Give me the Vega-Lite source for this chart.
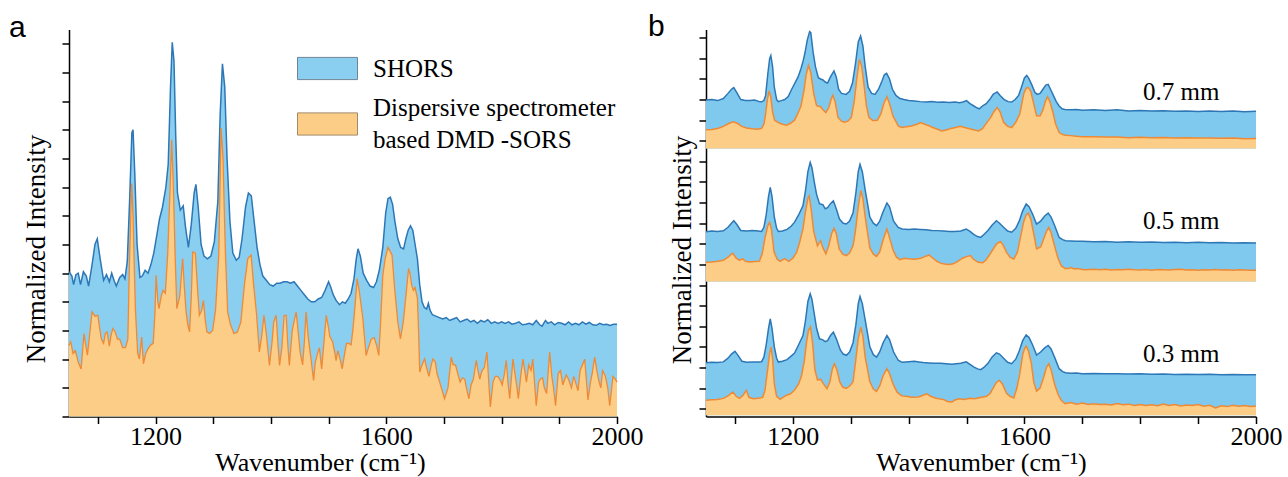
{
"$schema":"https://vega.github.io/schema/vega-lite/v6.json",
"padding":{"left":9,"top":11.5,"right":2,"bottom":2},
"background":"white",
"config":{"view":{"stroke":null},"font":"Liberation Serif",
"axis":{"domainColor":"black","domainWidth":1.5,"tickColor":"black","tickWidth":1.5,"tickSize":7,"grid":false,"labelFont":"Liberation Serif","labelFontSize":26,"labelColor":"black","titleFont":"Liberation Serif","titleFontSize":26,"titleFontWeight":"normal","titleColor":"black","labelFlush":false,"labelOverlap":false,"labelPadding":0}},
"datasets":{
"as":[{"x":1050,"y":5.05},{"x":1055,"y":4.9},{"x":1058,"y":4.6},{"x":1062,"y":4.95},{"x":1066,"y":5.0},{"x":1070,"y":4.6},{"x":1075,"y":5.05},{"x":1080,"y":4.9},{"x":1084,"y":4.55},{"x":1090,"y":5.3},{"x":1095,"y":6.0},{"x":1099,"y":6.2},{"x":1104,"y":5.5},{"x":1110,"y":4.75},{"x":1115,"y":4.95},{"x":1120,"y":4.7},{"x":1124,"y":5.0},{"x":1128,"y":4.75},{"x":1132,"y":4.55},{"x":1138,"y":4.85},{"x":1143,"y":4.95},{"x":1147,"y":4.8},{"x":1151,"y":5.4},{"x":1155,"y":7.5},{"x":1159,"y":9.9},{"x":1161,"y":10.0},{"x":1164,"y":8.5},{"x":1168,"y":6.0},{"x":1173,"y":4.85},{"x":1177,"y":4.9},{"x":1182,"y":5.1},{"x":1187,"y":5.0},{"x":1192,"y":5.3},{"x":1197,"y":5.7},{"x":1202,"y":6.3},{"x":1207,"y":6.9},{"x":1212,"y":7.3},{"x":1218,"y":8.0},{"x":1222,"y":8.8},{"x":1226,"y":11.5},{"x":1229,"y":13.05},{"x":1232,"y":12.4},{"x":1235,"y":9.8},{"x":1238,"y":7.8},{"x":1243,"y":7.2},{"x":1248,"y":7.35},{"x":1252,"y":6.6},{"x":1257,"y":5.9},{"x":1262,"y":6.7},{"x":1267,"y":7.8},{"x":1270,"y":8.1},{"x":1274,"y":7.3},{"x":1279,"y":6.0},{"x":1284,"y":5.6},{"x":1290,"y":5.5},{"x":1296,"y":5.6},{"x":1302,"y":6.1},{"x":1308,"y":7.5},{"x":1312,"y":10.5},{"x":1316,"y":12.3},{"x":1320,"y":11.5},{"x":1324,"y":9.0},{"x":1329,"y":6.8},{"x":1334,"y":5.7},{"x":1340,"y":5.45},{"x":1345,"y":5.55},{"x":1350,"y":6.2},{"x":1356,"y":7.3},{"x":1361,"y":7.8},{"x":1366,"y":7.7},{"x":1371,"y":6.8},{"x":1376,"y":5.9},{"x":1381,"y":5.3},{"x":1386,"y":4.9},{"x":1392,"y":4.75},{"x":1398,"y":4.6},{"x":1404,"y":4.55},{"x":1410,"y":4.65},{"x":1416,"y":4.65},{"x":1422,"y":4.7},{"x":1428,"y":4.7},{"x":1434,"y":4.65},{"x":1440,"y":4.7},{"x":1446,"y":4.55},{"x":1452,"y":4.4},{"x":1458,"y":4.25},{"x":1464,"y":4.1},{"x":1470,"y":4.0},{"x":1476,"y":4.0},{"x":1482,"y":4.1},{"x":1488,"y":4.15},{"x":1494,"y":4.4},{"x":1500,"y":4.7},{"x":1504,"y":4.5},{"x":1508,"y":4.25},{"x":1513,"y":4.05},{"x":1519,"y":3.9},{"x":1524,"y":4.0},{"x":1529,"y":3.95},{"x":1534,"y":4.1},{"x":1539,"y":4.3},{"x":1544,"y":4.8},{"x":1548,"y":5.5},{"x":1551,"y":5.85},{"x":1555,"y":5.6},{"x":1560,"y":5.0},{"x":1566,"y":4.75},{"x":1572,"y":4.55},{"x":1578,"y":4.5},{"x":1583,"y":4.7},{"x":1588,"y":5.1},{"x":1594,"y":5.9},{"x":1599,"y":7.1},{"x":1603,"y":7.6},{"x":1607,"y":7.65},{"x":1611,"y":7.4},{"x":1615,"y":6.8},{"x":1620,"y":6.2},{"x":1625,"y":5.9},{"x":1630,"y":5.85},{"x":1634,"y":6.2},{"x":1638,"y":6.5},{"x":1642,"y":6.65},{"x":1646,"y":6.5},{"x":1650,"y":6.0},{"x":1654,"y":5.5},{"x":1658,"y":4.6},{"x":1662,"y":4.0},{"x":1666,"y":3.8},{"x":1670,"y":3.75},{"x":1673,"y":3.95},{"x":1676,"y":3.7},{"x":1680,"y":3.55},{"x":1686,"y":3.5},{"x":1692,"y":3.45},{"x":1698,"y":3.4},{"x":1704,"y":3.45},{"x":1710,"y":3.35},{"x":1716,"y":3.4},{"x":1722,"y":3.45},{"x":1728,"y":3.3},{"x":1734,"y":3.35},{"x":1740,"y":3.4},{"x":1746,"y":3.3},{"x":1752,"y":3.35},{"x":1758,"y":3.25},{"x":1764,"y":3.35},{"x":1770,"y":3.3},{"x":1776,"y":3.38},{"x":1782,"y":3.25},{"x":1788,"y":3.3},{"x":1794,"y":3.25},{"x":1800,"y":3.3},{"x":1806,"y":3.25},{"x":1812,"y":3.3},{"x":1818,"y":3.22},{"x":1824,"y":3.25},{"x":1830,"y":3.3},{"x":1836,"y":3.2},{"x":1842,"y":3.22},{"x":1848,"y":3.25},{"x":1854,"y":3.2},{"x":1860,"y":3.35},{"x":1866,"y":3.2},{"x":1870,"y":3.15},{"x":1876,"y":3.35},{"x":1880,"y":3.25},{"x":1886,"y":3.3},{"x":1892,"y":3.2},{"x":1898,"y":3.28},{"x":1904,"y":3.25},{"x":1910,"y":3.2},{"x":1916,"y":3.3},{"x":1922,"y":3.2},{"x":1928,"y":3.25},{"x":1934,"y":3.2},{"x":1940,"y":3.3},{"x":1946,"y":3.22},{"x":1952,"y":3.28},{"x":1958,"y":3.2},{"x":1964,"y":3.18},{"x":1970,"y":3.25},{"x":1976,"y":3.2},{"x":1982,"y":3.22},{"x":1988,"y":3.18},{"x":1994,"y":3.22},{"x":2000,"y":3.22}],
"ad":[{"x":1050,"y":2.48},{"x":1053,"y":2.6},{"x":1057,"y":2.2},{"x":1061,"y":2.3},{"x":1066,"y":1.9},{"x":1071,"y":1.66},{"x":1076,"y":2.89},{"x":1079,"y":2.5},{"x":1082,"y":2.14},{"x":1086,"y":2.9},{"x":1090,"y":3.65},{"x":1095,"y":3.5},{"x":1100,"y":3.53},{"x":1103,"y":3.1},{"x":1106,"y":2.7},{"x":1110,"y":2.55},{"x":1113,"y":2.9},{"x":1116,"y":2.95},{"x":1120,"y":2.45},{"x":1123,"y":2.85},{"x":1126,"y":3.07},{"x":1130,"y":2.95},{"x":1134,"y":2.7},{"x":1138,"y":2.7},{"x":1143,"y":2.4},{"x":1148,"y":2.4},{"x":1152,"y":2.7},{"x":1155,"y":5.5},{"x":1158.7,"y":8.13},{"x":1161,"y":7.0},{"x":1165,"y":3.8},{"x":1169,"y":2.2},{"x":1172,"y":2.0},{"x":1176,"y":2.77},{"x":1179,"y":1.84},{"x":1183,"y":2.2},{"x":1188,"y":2.4},{"x":1192,"y":2.5},{"x":1196,"y":2.55},{"x":1199,"y":3.6},{"x":1201,"y":4.93},{"x":1204,"y":4.0},{"x":1206,"y":3.76},{"x":1210,"y":4.2},{"x":1213,"y":4.4},{"x":1217,"y":4.3},{"x":1221,"y":5.63},{"x":1225,"y":7.8},{"x":1228,"y":9.65},{"x":1231,"y":8.0},{"x":1234,"y":5.6},{"x":1237,"y":3.76},{"x":1242,"y":4.2},{"x":1247,"y":5.51},{"x":1250,"y":4.5},{"x":1253,"y":3.65},{"x":1256,"y":3.2},{"x":1259,"y":2.95},{"x":1262,"y":4.2},{"x":1264.5,"y":5.74},{"x":1269,"y":5.7},{"x":1273,"y":4.4},{"x":1276,"y":3.53},{"x":1280,"y":3.7},{"x":1283,"y":4.05},{"x":1286,"y":3.4},{"x":1289,"y":2.95},{"x":1294,"y":2.9},{"x":1299,"y":3.0},{"x":1304,"y":3.7},{"x":1309.6,"y":5.63},{"x":1313.7,"y":10.06},{"x":1317,"y":9.0},{"x":1321,"y":5.8},{"x":1325,"y":3.65},{"x":1330,"y":3.2},{"x":1336,"y":2.89},{"x":1342,"y":2.95},{"x":1348,"y":3.3},{"x":1354,"y":4.58},{"x":1360,"y":5.51},{"x":1365.7,"y":5.63},{"x":1370,"y":4.6},{"x":1375,"y":3.6},{"x":1380,"y":2.25},{"x":1384,"y":2.8},{"x":1388,"y":3.53},{"x":1392,"y":2.9},{"x":1397.5,"y":1.78},{"x":1402,"y":2.6},{"x":1405,"y":3.3},{"x":1409,"y":3.53},{"x":1412,"y":2.6},{"x":1415,"y":1.78},{"x":1419,"y":2.4},{"x":1423,"y":3.53},{"x":1426.5,"y":3.53},{"x":1429,"y":2.6},{"x":1432,"y":1.78},{"x":1437,"y":3.0},{"x":1440,"y":3.3},{"x":1443.8,"y":3.65},{"x":1448,"y":2.8},{"x":1451,"y":2.2},{"x":1455,"y":1.8},{"x":1458,"y":2.6},{"x":1461,"y":3.65},{"x":1465,"y":2.7},{"x":1469,"y":2.1},{"x":1474,"y":1.26},{"x":1477,"y":1.9},{"x":1481,"y":2.2},{"x":1484,"y":2.4},{"x":1488,"y":1.66},{"x":1492,"y":2.6},{"x":1496,"y":3.53},{"x":1499,"y":3.2},{"x":1502,"y":2.8},{"x":1507,"y":2.6},{"x":1511,"y":2.2},{"x":1513,"y":1.95},{"x":1516,"y":2.3},{"x":1520,"y":2.0},{"x":1523.6,"y":1.66},{"x":1527,"y":2.1},{"x":1531,"y":2.55},{"x":1535,"y":2.55},{"x":1539,"y":2.5},{"x":1542,"y":3.0},{"x":1545,"y":3.65},{"x":1549.6,"y":4.81},{"x":1553.7,"y":4.3},{"x":1559.5,"y":3.4},{"x":1565,"y":2.13},{"x":1569,"y":2.4},{"x":1574,"y":2.7},{"x":1579,"y":2.75},{"x":1583,"y":2.5},{"x":1587,"y":2.13},{"x":1590,"y":3.2},{"x":1594,"y":4.93},{"x":1598,"y":5.5},{"x":1603,"y":5.9},{"x":1607,"y":5.75},{"x":1610,"y":5.63},{"x":1615,"y":4.35},{"x":1620,"y":3.3},{"x":1624.5,"y":2.71},{"x":1629.5,"y":3.3},{"x":1634,"y":4.2},{"x":1638.7,"y":5.16},{"x":1641,"y":5.0},{"x":1644,"y":4.58},{"x":1647,"y":4.4},{"x":1650,"y":4.5},{"x":1654,"y":4.12},{"x":1656,"y":3.0},{"x":1658,"y":1.55},{"x":1662,"y":1.8},{"x":1666.4,"y":2.01},{"x":1670,"y":1.7},{"x":1674,"y":1.4},{"x":1678,"y":1.8},{"x":1681,"y":2.01},{"x":1685,"y":1.9},{"x":1688,"y":1.5},{"x":1692.5,"y":1.2},{"x":1697,"y":0.9},{"x":1701,"y":0.62},{"x":1707,"y":1.0},{"x":1712.7,"y":2.07},{"x":1716,"y":1.8},{"x":1720,"y":1.8},{"x":1724,"y":1.5},{"x":1728,"y":1.2},{"x":1732,"y":1.35},{"x":1736,"y":1.3},{"x":1740,"y":0.9},{"x":1743.3,"y":0.62},{"x":1747,"y":1.1},{"x":1751,"y":1.3},{"x":1756,"y":1.96},{"x":1759,"y":1.6},{"x":1762,"y":1.3},{"x":1766,"y":1.6},{"x":1770,"y":1.7},{"x":1774.5,"y":2.25},{"x":1780.4,"y":0.33},{"x":1785,"y":1.2},{"x":1789,"y":1.4},{"x":1793,"y":1.4},{"x":1797,"y":1.3},{"x":1801,"y":1.1},{"x":1805,"y":1.5},{"x":1808,"y":1.96},{"x":1811,"y":1.2},{"x":1814,"y":0.62},{"x":1819.6,"y":2.0},{"x":1823,"y":1.5},{"x":1826,"y":1.1},{"x":1829,"y":0.62},{"x":1833,"y":1.4},{"x":1837,"y":2.0},{"x":1840,"y":1.6},{"x":1843,"y":1.2},{"x":1847,"y":1.8},{"x":1851,"y":1.6},{"x":1854,"y":2.0},{"x":1860,"y":0.38},{"x":1864,"y":1.2},{"x":1867,"y":1.3},{"x":1871,"y":1.35},{"x":1874,"y":1.0},{"x":1878,"y":0.8},{"x":1883.3,"y":2.25},{"x":1887,"y":1.4},{"x":1890,"y":1.0},{"x":1893.5,"y":0.38},{"x":1898,"y":1.5},{"x":1902,"y":1.6},{"x":1906,"y":1.1},{"x":1912,"y":1.45},{"x":1916,"y":1.3},{"x":1921,"y":1.0},{"x":1925,"y":1.4},{"x":1928,"y":1.2},{"x":1932.4,"y":0.9},{"x":1936,"y":1.6},{"x":1940,"y":1.8},{"x":1944,"y":2.0},{"x":1949.7,"y":0.58},{"x":1954,"y":1.2},{"x":1957,"y":1.5},{"x":1961.3,"y":2.07},{"x":1965,"y":1.6},{"x":1969,"y":1.2},{"x":1972,"y":1.0},{"x":1975,"y":1.6},{"x":1980,"y":1.4},{"x":1984,"y":1.0},{"x":1987.4,"y":0.38},{"x":1993,"y":1.4},{"x":1997,"y":1.3},{"x":2000,"y":1.2}],
"b7s":[{"x":1050,"y":14.98},{"x":1060,"y":15.0},{"x":1070,"y":14.95},{"x":1080,"y":15.05},{"x":1088,"y":15.3},{"x":1094,"y":15.5},{"x":1098,"y":15.58},{"x":1103,"y":15.35},{"x":1110,"y":15.0},{"x":1118,"y":14.95},{"x":1126,"y":14.95},{"x":1134,"y":14.98},{"x":1142,"y":14.9},{"x":1146,"y":14.89},{"x":1150,"y":14.95},{"x":1153,"y":15.2},{"x":1157,"y":16.3},{"x":1160,"y":17.0},{"x":1162,"y":17.14},{"x":1165,"y":16.6},{"x":1168,"y":15.6},{"x":1172,"y":15.0},{"x":1175,"y":14.9},{"x":1180,"y":14.95},{"x":1186,"y":15.0},{"x":1192,"y":15.15},{"x":1198,"y":15.5},{"x":1204,"y":15.82},{"x":1209,"y":16.1},{"x":1214,"y":16.5},{"x":1218,"y":16.9},{"x":1221,"y":17.27},{"x":1225,"y":17.9},{"x":1229,"y":18.3},{"x":1231,"y":18.25},{"x":1235,"y":17.3},{"x":1239,"y":16.6},{"x":1244,"y":16.06},{"x":1248,"y":16.0},{"x":1252,"y":15.95},{"x":1256,"y":15.85},{"x":1260,"y":15.8},{"x":1265,"y":16.1},{"x":1271,"y":16.39},{"x":1275,"y":16.1},{"x":1279,"y":15.5},{"x":1284,"y":15.3},{"x":1292,"y":15.25},{"x":1298,"y":15.4},{"x":1303,"y":15.8},{"x":1308,"y":16.7},{"x":1313,"y":17.8},{"x":1317,"y":18.08},{"x":1321,"y":17.6},{"x":1325,"y":16.6},{"x":1330,"y":15.6},{"x":1336,"y":15.3},{"x":1342,"y":15.25},{"x":1348,"y":15.5},{"x":1354,"y":15.9},{"x":1358,"y":16.2},{"x":1362,"y":16.27},{"x":1367,"y":16.0},{"x":1372,"y":15.5},{"x":1378,"y":15.2},{"x":1385,"y":15.05},{"x":1392,"y":15.0},{"x":1400,"y":14.95},{"x":1410,"y":14.93},{"x":1420,"y":14.9},{"x":1430,"y":14.88},{"x":1440,"y":14.9},{"x":1450,"y":14.87},{"x":1460,"y":14.88},{"x":1470,"y":14.86},{"x":1480,"y":14.88},{"x":1488,"y":14.85},{"x":1494,"y":14.88},{"x":1500,"y":14.95},{"x":1506,"y":14.8},{"x":1512,"y":14.7},{"x":1518,"y":14.6},{"x":1522,"y":14.55},{"x":1528,"y":14.7},{"x":1534,"y":14.8},{"x":1540,"y":15.0},{"x":1546,"y":15.25},{"x":1553,"y":15.37},{"x":1558,"y":15.2},{"x":1565,"y":15.0},{"x":1572,"y":14.9},{"x":1578,"y":14.88},{"x":1584,"y":15.0},{"x":1590,"y":15.2},{"x":1596,"y":15.7},{"x":1600,"y":16.05},{"x":1604,"y":16.17},{"x":1608,"y":16.0},{"x":1613,"y":15.7},{"x":1618,"y":15.35},{"x":1622,"y":15.25},{"x":1627,"y":15.3},{"x":1632,"y":15.5},{"x":1637,"y":15.7},{"x":1641,"y":15.74},{"x":1645,"y":15.5},{"x":1650,"y":15.2},{"x":1655,"y":14.9},{"x":1660,"y":14.69},{"x":1665,"y":14.55},{"x":1670,"y":14.52},{"x":1680,"y":14.5},{"x":1690,"y":14.52},{"x":1700,"y":14.48},{"x":1720,"y":14.5},{"x":1740,"y":14.47},{"x":1760,"y":14.5},{"x":1780,"y":14.45},{"x":1800,"y":14.47},{"x":1820,"y":14.44},{"x":1840,"y":14.46},{"x":1860,"y":14.43},{"x":1880,"y":14.45},{"x":1900,"y":14.42},{"x":1920,"y":14.45},{"x":1940,"y":14.42},{"x":1960,"y":14.44},{"x":1980,"y":14.41},{"x":2000,"y":14.43}],
"b7d":[{"x":1050,"y":13.53},{"x":1060,"y":13.55},{"x":1070,"y":13.6},{"x":1080,"y":13.7},{"x":1090,"y":13.85},{"x":1097,"y":13.92},{"x":1104,"y":13.85},{"x":1112,"y":13.7},{"x":1120,"y":13.62},{"x":1130,"y":13.58},{"x":1139,"y":13.56},{"x":1146,"y":13.6},{"x":1150,"y":13.8},{"x":1153,"y":14.3},{"x":1156,"y":15.0},{"x":1159,"y":15.42},{"x":1162,"y":15.1},{"x":1165,"y":14.4},{"x":1168.5,"y":14.0},{"x":1175,"y":13.88},{"x":1182,"y":13.8},{"x":1189,"y":13.75},{"x":1196,"y":13.85},{"x":1203,"y":14.0},{"x":1209,"y":14.35},{"x":1214,"y":14.69},{"x":1219,"y":15.4},{"x":1223,"y":16.2},{"x":1227,"y":16.66},{"x":1231,"y":16.3},{"x":1236,"y":15.3},{"x":1241,"y":14.7},{"x":1248,"y":14.65},{"x":1252,"y":14.5},{"x":1257,"y":14.37},{"x":1262,"y":14.6},{"x":1266,"y":15.0},{"x":1269,"y":15.21},{"x":1273,"y":14.9},{"x":1278,"y":14.13},{"x":1284,"y":13.95},{"x":1289,"y":13.9},{"x":1295,"y":13.95},{"x":1301,"y":14.13},{"x":1306,"y":14.9},{"x":1310,"y":15.9},{"x":1315,"y":16.95},{"x":1319,"y":16.6},{"x":1323,"y":15.7},{"x":1327,"y":14.7},{"x":1331.5,"y":14.13},{"x":1338,"y":13.98},{"x":1346,"y":14.0},{"x":1352,"y":14.3},{"x":1357,"y":14.8},{"x":1362.5,"y":15.14},{"x":1367,"y":14.8},{"x":1373,"y":14.2},{"x":1382,"y":13.72},{"x":1388,"y":13.65},{"x":1396,"y":13.68},{"x":1405,"y":13.72},{"x":1414,"y":13.8},{"x":1421,"y":13.88},{"x":1428,"y":13.8},{"x":1436,"y":13.72},{"x":1444,"y":13.62},{"x":1451,"y":13.55},{"x":1457,"y":13.48},{"x":1465,"y":13.52},{"x":1473,"y":13.6},{"x":1481,"y":13.64},{"x":1489,"y":13.7},{"x":1497,"y":13.64},{"x":1505,"y":13.58},{"x":1514,"y":13.52},{"x":1521,"y":13.48},{"x":1528,"y":13.6},{"x":1535,"y":13.88},{"x":1541,"y":14.1},{"x":1547,"y":14.4},{"x":1553,"y":14.61},{"x":1558,"y":14.4},{"x":1564,"y":13.9},{"x":1571,"y":13.7},{"x":1578,"y":13.64},{"x":1585,"y":13.9},{"x":1592,"y":14.3},{"x":1599,"y":15.3},{"x":1603,"y":15.55},{"x":1607,"y":15.58},{"x":1611,"y":15.4},{"x":1616,"y":14.8},{"x":1621,"y":14.21},{"x":1627,"y":14.2},{"x":1632,"y":14.5},{"x":1636,"y":14.9},{"x":1640,"y":15.14},{"x":1644,"y":14.9},{"x":1649,"y":14.4},{"x":1654,"y":13.8},{"x":1660,"y":13.4},{"x":1666,"y":13.3},{"x":1671,"y":13.27},{"x":1680,"y":13.25},{"x":1690,"y":13.22},{"x":1700,"y":13.2},{"x":1720,"y":13.2},{"x":1740,"y":13.18},{"x":1760,"y":13.18},{"x":1780,"y":13.15},{"x":1800,"y":13.17},{"x":1820,"y":13.15},{"x":1840,"y":13.16},{"x":1860,"y":13.13},{"x":1880,"y":13.15},{"x":1900,"y":13.13},{"x":1920,"y":13.14},{"x":1940,"y":13.12},{"x":1960,"y":13.14},{"x":1980,"y":13.1},{"x":2000,"y":13.11}],
"b5s":[{"x":1050,"y":8.59},{"x":1060,"y":8.62},{"x":1070,"y":8.6},{"x":1080,"y":8.63},{"x":1088,"y":8.8},{"x":1094,"y":9.0},{"x":1098,"y":9.12},{"x":1103,"y":8.95},{"x":1110,"y":8.65},{"x":1120,"y":8.62},{"x":1130,"y":8.64},{"x":1140,"y":8.62},{"x":1146,"y":8.6},{"x":1150,"y":8.8},{"x":1154,"y":9.4},{"x":1158,"y":10.3},{"x":1161,"y":10.74},{"x":1164,"y":10.3},{"x":1168,"y":9.3},{"x":1172,"y":8.75},{"x":1175,"y":8.6},{"x":1182,"y":8.62},{"x":1190,"y":8.7},{"x":1197,"y":8.85},{"x":1203,"y":9.05},{"x":1210,"y":9.4},{"x":1217.5,"y":9.85},{"x":1222,"y":10.6},{"x":1226,"y":11.5},{"x":1230,"y":11.95},{"x":1233,"y":11.7},{"x":1237,"y":11.0},{"x":1241,"y":10.4},{"x":1246,"y":9.95},{"x":1251.8,"y":9.9},{"x":1256,"y":9.7},{"x":1260,"y":9.75},{"x":1265,"y":9.95},{"x":1270,"y":10.09},{"x":1275,"y":9.7},{"x":1280.5,"y":9.2},{"x":1287,"y":9.0},{"x":1292.5,"y":8.96},{"x":1298,"y":9.1},{"x":1304,"y":9.5},{"x":1309,"y":10.5},{"x":1313,"y":11.5},{"x":1316,"y":11.86},{"x":1320,"y":11.5},{"x":1325,"y":10.6},{"x":1333,"y":9.3},{"x":1339,"y":9.0},{"x":1344.6,"y":8.88},{"x":1350,"y":9.1},{"x":1355,"y":9.5},{"x":1362.5,"y":9.98},{"x":1367,"y":9.8},{"x":1374,"y":9.1},{"x":1382,"y":8.8},{"x":1388.8,"y":8.72},{"x":1400,"y":8.7},{"x":1410,"y":8.72},{"x":1420,"y":8.7},{"x":1430,"y":8.68},{"x":1440,"y":8.65},{"x":1450,"y":8.64},{"x":1460,"y":8.62},{"x":1470,"y":8.6},{"x":1480,"y":8.6},{"x":1490,"y":8.62},{"x":1499.5,"y":8.72},{"x":1506,"y":8.6},{"x":1513,"y":8.45},{"x":1519,"y":8.35},{"x":1524.5,"y":8.31},{"x":1530,"y":8.45},{"x":1537,"y":8.65},{"x":1544,"y":8.9},{"x":1551.6,"y":9.12},{"x":1557,"y":9.0},{"x":1564,"y":8.8},{"x":1571,"y":8.62},{"x":1578,"y":8.56},{"x":1585,"y":8.75},{"x":1591,"y":9.1},{"x":1597,"y":9.6},{"x":1603,"y":9.93},{"x":1608,"y":9.8},{"x":1614,"y":9.45},{"x":1621,"y":8.96},{"x":1628,"y":9.1},{"x":1635,"y":9.35},{"x":1641,"y":9.49},{"x":1646,"y":9.3},{"x":1652,"y":8.9},{"x":1660,"y":8.31},{"x":1666,"y":8.2},{"x":1671,"y":8.15},{"x":1680,"y":8.14},{"x":1690,"y":8.12},{"x":1700,"y":8.13},{"x":1720,"y":8.1},{"x":1740,"y":8.11},{"x":1760,"y":8.08},{"x":1780,"y":8.1},{"x":1800,"y":8.08},{"x":1820,"y":8.09},{"x":1840,"y":8.06},{"x":1860,"y":8.08},{"x":1880,"y":8.05},{"x":1900,"y":8.07},{"x":1920,"y":8.05},{"x":1940,"y":8.06},{"x":1960,"y":8.04},{"x":1980,"y":8.05},{"x":2000,"y":8.04}],
"b5d":[{"x":1050,"y":7.1},{"x":1060,"y":7.12},{"x":1070,"y":7.15},{"x":1080,"y":7.2},{"x":1088,"y":7.35},{"x":1096,"y":7.55},{"x":1102,"y":7.3},{"x":1108,"y":7.2},{"x":1113,"y":7.28},{"x":1118,"y":7.15},{"x":1126,"y":7.12},{"x":1134,"y":7.14},{"x":1142,"y":7.15},{"x":1147,"y":7.5},{"x":1152,"y":8.3},{"x":1157,"y":8.9},{"x":1160,"y":9.04},{"x":1163,"y":8.7},{"x":1167.6,"y":7.6},{"x":1173,"y":7.25},{"x":1178,"y":7.15},{"x":1185.6,"y":7.28},{"x":1193,"y":7.15},{"x":1200,"y":7.3},{"x":1206.8,"y":7.6},{"x":1212,"y":8.1},{"x":1217.5,"y":8.72},{"x":1222,"y":9.6},{"x":1226,"y":10.2},{"x":1228.2,"y":10.33},{"x":1232,"y":9.6},{"x":1236,"y":8.6},{"x":1242.5,"y":7.9},{"x":1248,"y":8.15},{"x":1252,"y":7.8},{"x":1257,"y":7.51},{"x":1262,"y":7.9},{"x":1267,"y":8.5},{"x":1271,"y":8.75},{"x":1275,"y":8.5},{"x":1280,"y":7.75},{"x":1286,"y":7.5},{"x":1292.5,"y":7.43},{"x":1298,"y":7.55},{"x":1304,"y":7.9},{"x":1308,"y":8.6},{"x":1313,"y":9.8},{"x":1317.5,"y":10.58},{"x":1321,"y":10.2},{"x":1325,"y":9.3},{"x":1333,"y":7.8},{"x":1339,"y":7.5},{"x":1344.6,"y":7.39},{"x":1350,"y":7.6},{"x":1356,"y":8.2},{"x":1362.5,"y":8.72},{"x":1367,"y":8.3},{"x":1373,"y":7.7},{"x":1379,"y":7.35},{"x":1385,"y":7.23},{"x":1392,"y":7.3},{"x":1400,"y":7.27},{"x":1410,"y":7.25},{"x":1421,"y":7.3},{"x":1428,"y":7.38},{"x":1435,"y":7.46},{"x":1442,"y":7.3},{"x":1449,"y":7.15},{"x":1456,"y":7.05},{"x":1462,"y":7.02},{"x":1470,"y":7.0},{"x":1477,"y":7.03},{"x":1485,"y":7.15},{"x":1493,"y":7.3},{"x":1500,"y":7.38},{"x":1506.5,"y":7.43},{"x":1512,"y":7.25},{"x":1520,"y":7.1},{"x":1528,"y":7.08},{"x":1533,"y":7.2},{"x":1539,"y":7.43},{"x":1545,"y":7.7},{"x":1552,"y":8.0},{"x":1558.6,"y":8.11},{"x":1563,"y":7.95},{"x":1569,"y":7.6},{"x":1575,"y":7.35},{"x":1581.7,"y":7.26},{"x":1588,"y":7.6},{"x":1593,"y":8.3},{"x":1599,"y":9.1},{"x":1603,"y":9.4},{"x":1606.6,"y":9.49},{"x":1611,"y":9.2},{"x":1616,"y":8.5},{"x":1621,"y":7.75},{"x":1628,"y":7.85},{"x":1634,"y":8.3},{"x":1638,"y":8.6},{"x":1642,"y":8.8},{"x":1646,"y":8.55},{"x":1652,"y":7.9},{"x":1658,"y":7.3},{"x":1663.6,"y":6.94},{"x":1670,"y":6.8},{"x":1676,"y":6.8},{"x":1681,"y":6.85},{"x":1686,"y":6.78},{"x":1692,"y":6.8},{"x":1698,"y":6.76},{"x":1704,"y":6.74},{"x":1712,"y":6.75},{"x":1720,"y":6.76},{"x":1730,"y":6.74},{"x":1740,"y":6.76},{"x":1750,"y":6.73},{"x":1760,"y":6.75},{"x":1770,"y":6.74},{"x":1780,"y":6.76},{"x":1790,"y":6.74},{"x":1800,"y":6.73},{"x":1810,"y":6.75},{"x":1820,"y":6.72},{"x":1830,"y":6.75},{"x":1840,"y":6.74},{"x":1850,"y":6.73},{"x":1860,"y":6.75},{"x":1870,"y":6.76},{"x":1880,"y":6.73},{"x":1890,"y":6.74},{"x":1900,"y":6.72},{"x":1910,"y":6.74},{"x":1920,"y":6.73},{"x":1930,"y":6.75},{"x":1940,"y":6.73},{"x":1950,"y":6.74},{"x":1960,"y":6.72},{"x":1970,"y":6.74},{"x":1980,"y":6.73},{"x":1990,"y":6.72},{"x":2000,"y":6.72}],
"b3s":[{"x":1050,"y":2.23},{"x":1060,"y":2.25},{"x":1070,"y":2.24},{"x":1080,"y":2.27},{"x":1088,"y":2.45},{"x":1094,"y":2.65},{"x":1100,"y":2.78},{"x":1105,"y":2.6},{"x":1112,"y":2.3},{"x":1120,"y":2.25},{"x":1130,"y":2.27},{"x":1140,"y":2.26},{"x":1146,"y":2.28},{"x":1150,"y":2.5},{"x":1154,"y":3.1},{"x":1158,"y":3.9},{"x":1161,"y":4.36},{"x":1164,"y":3.9},{"x":1168,"y":3.0},{"x":1172,"y":2.45},{"x":1175,"y":2.26},{"x":1182,"y":2.3},{"x":1190,"y":2.38},{"x":1197,"y":2.55},{"x":1203,"y":2.7},{"x":1210,"y":3.1},{"x":1217.5,"y":3.55},{"x":1222,"y":4.3},{"x":1226,"y":5.2},{"x":1230,"y":5.57},{"x":1233,"y":5.3},{"x":1237,"y":4.6},{"x":1241,"y":3.9},{"x":1246,"y":3.39},{"x":1251,"y":3.35},{"x":1256,"y":3.25},{"x":1260,"y":3.3},{"x":1265,"y":3.55},{"x":1270,"y":3.71},{"x":1275,"y":3.4},{"x":1282,"y":2.85},{"x":1287,"y":2.65},{"x":1292.5,"y":2.59},{"x":1298,"y":2.75},{"x":1304,"y":3.2},{"x":1309,"y":4.1},{"x":1313,"y":5.1},{"x":1316,"y":5.44},{"x":1320,"y":5.1},{"x":1325,"y":4.3},{"x":1333,"y":3.0},{"x":1339,"y":2.62},{"x":1344.6,"y":2.5},{"x":1350,"y":2.75},{"x":1356,"y":3.2},{"x":1362.5,"y":3.55},{"x":1367,"y":3.35},{"x":1374,"y":2.75},{"x":1382,"y":2.35},{"x":1388.8,"y":2.25},{"x":1400,"y":2.28},{"x":1410,"y":2.3},{"x":1417.6,"y":2.27},{"x":1425,"y":2.24},{"x":1435,"y":2.22},{"x":1445,"y":2.2},{"x":1455,"y":2.2},{"x":1465,"y":2.18},{"x":1474.7,"y":2.15},{"x":1482,"y":2.18},{"x":1490,"y":2.2},{"x":1499.5,"y":2.27},{"x":1506,"y":2.15},{"x":1513,"y":2.02},{"x":1519,"y":1.93},{"x":1524.5,"y":1.89},{"x":1530,"y":2.0},{"x":1537,"y":2.2},{"x":1544,"y":2.5},{"x":1551.6,"y":2.71},{"x":1557,"y":2.65},{"x":1564,"y":2.45},{"x":1571,"y":2.25},{"x":1578,"y":2.18},{"x":1585,"y":2.4},{"x":1591,"y":2.8},{"x":1597,"y":3.3},{"x":1603,"y":3.58},{"x":1608,"y":3.45},{"x":1614,"y":3.1},{"x":1621,"y":2.6},{"x":1628,"y":2.75},{"x":1635,"y":2.95},{"x":1641,"y":3.07},{"x":1646,"y":2.9},{"x":1652,"y":2.5},{"x":1660,"y":1.94},{"x":1666,"y":1.8},{"x":1671,"y":1.74},{"x":1680,"y":1.72},{"x":1690,"y":1.73},{"x":1700,"y":1.7},{"x":1720,"y":1.71},{"x":1740,"y":1.69},{"x":1760,"y":1.7},{"x":1780,"y":1.68},{"x":1800,"y":1.69},{"x":1820,"y":1.67},{"x":1840,"y":1.68},{"x":1860,"y":1.66},{"x":1880,"y":1.67},{"x":1900,"y":1.66},{"x":1920,"y":1.67},{"x":1940,"y":1.65},{"x":1960,"y":1.66},{"x":1980,"y":1.65},{"x":2000,"y":1.65}],
"b3d":[{"x":1050,"y":0.41},{"x":1060,"y":0.43},{"x":1070,"y":0.45},{"x":1080,"y":0.5},{"x":1088,"y":0.62},{"x":1096.4,"y":0.81},{"x":1102,"y":0.6},{"x":1108,"y":0.5},{"x":1114,"y":0.65},{"x":1119.8,"y":0.89},{"x":1124,"y":0.55},{"x":1132,"y":0.48},{"x":1140,"y":0.5},{"x":1148,"y":0.55},{"x":1152,"y":0.9},{"x":1156,"y":1.8},{"x":1160,"y":2.7},{"x":1162.5,"y":2.99},{"x":1165,"y":2.4},{"x":1168,"y":1.2},{"x":1172,"y":0.6},{"x":1178,"y":0.45},{"x":1183,"y":0.55},{"x":1189,"y":0.65},{"x":1196,"y":0.72},{"x":1203,"y":0.9},{"x":1210,"y":1.2},{"x":1215,"y":1.6},{"x":1219.7,"y":2.3},{"x":1224,"y":3.3},{"x":1227,"y":3.8},{"x":1230.4,"y":3.96},{"x":1234,"y":3.2},{"x":1238,"y":1.9},{"x":1242.5,"y":1.4},{"x":1248,"y":1.42},{"x":1253,"y":1.2},{"x":1259,"y":0.97},{"x":1264,"y":1.3},{"x":1268,"y":1.9},{"x":1271.8,"y":2.18},{"x":1276,"y":1.9},{"x":1281,"y":1.3},{"x":1286,"y":1.05},{"x":1292.5,"y":0.98},{"x":1298,"y":1.1},{"x":1304,"y":1.3},{"x":1308,"y":2.2},{"x":1313,"y":3.4},{"x":1317.5,"y":3.96},{"x":1321,"y":3.5},{"x":1325,"y":2.5},{"x":1333,"y":1.3},{"x":1339,"y":0.95},{"x":1344.6,"y":0.84},{"x":1350,"y":1.1},{"x":1356,"y":1.6},{"x":1362.5,"y":1.94},{"x":1367,"y":1.7},{"x":1373,"y":1.2},{"x":1380,"y":0.8},{"x":1388,"y":0.62},{"x":1396,"y":0.6},{"x":1405,"y":0.55},{"x":1417,"y":0.57},{"x":1425,"y":0.65},{"x":1431.6,"y":0.72},{"x":1438,"y":0.6},{"x":1446,"y":0.52},{"x":1452,"y":0.48},{"x":1460,"y":0.45},{"x":1467,"y":0.35},{"x":1474.7,"y":0.32},{"x":1480,"y":0.42},{"x":1487,"y":0.48},{"x":1496,"y":0.45},{"x":1506,"y":0.5},{"x":1514,"y":0.48},{"x":1520,"y":0.52},{"x":1528,"y":0.57},{"x":1535,"y":0.6},{"x":1541,"y":0.75},{"x":1546,"y":1.0},{"x":1551,"y":1.25},{"x":1556.5,"y":1.38},{"x":1562,"y":1.2},{"x":1569,"y":0.75},{"x":1575,"y":0.6},{"x":1581.7,"y":0.52},{"x":1587,"y":1.0},{"x":1592,"y":1.7},{"x":1597,"y":2.6},{"x":1600,"y":2.9},{"x":1603,"y":3.04},{"x":1607,"y":2.8},{"x":1612,"y":2.2},{"x":1616,"y":1.3},{"x":1621,"y":0.85},{"x":1627,"y":1.0},{"x":1633,"y":1.5},{"x":1638,"y":2.0},{"x":1642,"y":2.18},{"x":1646,"y":1.9},{"x":1652,"y":1.2},{"x":1658,"y":0.7},{"x":1663.6,"y":0.41},{"x":1670,"y":0.24},{"x":1680,"y":0.3},{"x":1690,"y":0.22},{"x":1700,"y":0.27},{"x":1710,"y":0.2},{"x":1720,"y":0.24},{"x":1730,"y":0.2},{"x":1740,"y":0.22},{"x":1750,"y":0.18},{"x":1760,"y":0.25},{"x":1770,"y":0.19},{"x":1780,"y":0.22},{"x":1790,"y":0.16},{"x":1800,"y":0.2},{"x":1810,"y":0.15},{"x":1820,"y":0.19},{"x":1830,"y":0.14},{"x":1840,"y":0.22},{"x":1850,"y":0.16},{"x":1860,"y":0.2},{"x":1870,"y":0.13},{"x":1880,"y":0.18},{"x":1890,"y":0.15},{"x":1900,"y":0.2},{"x":1910,"y":0.12},{"x":1920,"y":0.16},{"x":1930,"y":0.03},{"x":1940,"y":0.14},{"x":1950,"y":0.1},{"x":1960,"y":0.16},{"x":1970,"y":0.12},{"x":1980,"y":0.15},{"x":1990,"y":0.11},{"x":2000,"y":0.13}],
"blab":[{"t":"0.7 mm","x":1871,"y":15.35},{"t":"0.5 mm","x":1871,"y":9.1},{"t":"0.3 mm","x":1871,"y":2.65}]
},
"spacing":5,
"hconcat":[
{"width":548,"height":387,
"title":{"text":"a","anchor":"start","frame":"group","font":"Liberation Sans","fontSize":30,"fontWeight":"normal","color":"black","dx":-60,"dy":13,"offset":0},
"encoding":{
"x":{"field":"x","type":"quantitative","scale":{"domain":[1050,2000],"nice":false,"zero":false},"axis":{"title":"Wavenumber (cm⁻¹)","values":[1100,1200,1300,1400,1500,1600,1700,1800,1900,2000],"format":"d","labelExpr":"datum.value % 400 == 0 ? datum.label : ''","titleX":251,"titleY":33}},
"y":{"field":"y","type":"quantitative","scale":{"domain":[0,13.5],"nice":false,"zero":false},"axis":{"title":"Normalized Intensity","titleFontSize":27,"labels":false,"values":[0,1,2,3,4,5,6,7,8,9,10,11,12,13],"titleX":-33,"titleY":219,"titleBaseline":"middle"}}},
"layer":[
{"data":{"name":"as"},"mark":{"type":"area","opacity":1},"encoding":{"y2":{"datum":0},"fill":{"datum":"SHORS","type":"nominal","scale":{"domain":["SHORS"],"range":["#8BCFF0"]},"legend":{"orient":"none","legendX":228,"legendY":8.5,"title":null,"padding":0,"symbolType":"M-1,-0.37H1V0.37H-1Z","symbolSize":3600,"symbolStrokeColor":"#6f8596","symbolStrokeWidth":1,"symbolOpacity":1,"labelFont":"Liberation Serif","labelFontSize":25,"labelColor":"black","labelOffset":15,"labelLimit":400}}}},
{"data":{"name":"as"},"mark":{"type":"line","color":"#2D77B6","strokeWidth":1.5}},
{"data":{"name":"ad"},"mark":{"type":"area","opacity":1},"encoding":{"y2":{"datum":0},"color":{"datum":"DMD","type":"nominal","scale":{"domain":["DMD"],"range":["#FCCD86"]},"legend":{"orient":"none","legendX":228,"legendY":48,"title":null,"padding":0,"symbolType":"M-1,0.163H1V0.903H-1Z","symbolSize":3600,"symbolStrokeColor":"#a08a6a","symbolStrokeWidth":1,"symbolOpacity":1,"labelFont":"Liberation Serif","labelFontSize":25,"labelColor":"black","labelOffset":15,"labelLimit":400,"labelExpr":"['Dispersive spectrometer','based DMD -SORS']","encode":{"labels":{"update":{"lineHeight":{"value":32}}}}}}}},
{"data":{"name":"ad"},"mark":{"type":"line","color":"#EE8A36","strokeWidth":1.3}}
]},
{"width":550,"height":387,
"title":{"text":"b","anchor":"start","frame":"group","font":"Liberation Sans","fontSize":30,"fontWeight":"normal","color":"black","dx":-58,"dy":13,"offset":0},
"encoding":{
"x":{"field":"x","type":"quantitative","scale":{"domain":[1050,2000],"nice":false,"zero":false},"axis":{"title":"Wavenumber (cm⁻¹)","values":[1100,1200,1300,1400,1500,1600,1700,1800,1900,2000],"format":"d","labelExpr":"datum.value % 400 == 0 ? datum.label : ''","titleY":33}},
"y":{"field":"y","type":"quantitative","scale":{"domain":[-0.38,18.4],"nice":false,"zero":false},"axis":{"title":"Normalized Intensity","titleFontSize":27,"labels":false,"values":[0,1,2,3,4,5,6,7,8,9,10,11,12,13,14,15,16,17,18],"titleX":-24,"titleY":220,"titleBaseline":"middle"}}},
"layer":[
{"data":{"name":"b7s"},"mark":{"type":"area","color":"#7FC9EE","opacity":1},"encoding":{"y2":{"datum":12.63}}},
{"data":{"name":"b7s"},"mark":{"type":"line","color":"#2D77B6","strokeWidth":1.5}},
{"data":{"name":"b7d"},"mark":{"type":"area","color":"#FCCD86","opacity":1},"encoding":{"y2":{"datum":12.63}}},
{"data":{"name":"b7d"},"mark":{"type":"line","color":"#EE8A36","strokeWidth":1.5}},
{"data":{"name":"b5s"},"mark":{"type":"area","color":"#7FC9EE","opacity":1},"encoding":{"y2":{"datum":6.17}}},
{"data":{"name":"b5s"},"mark":{"type":"line","color":"#2D77B6","strokeWidth":1.5}},
{"data":{"name":"b5d"},"mark":{"type":"area","color":"#FCCD86","opacity":1},"encoding":{"y2":{"datum":6.17}}},
{"data":{"name":"b5d"},"mark":{"type":"line","color":"#EE8A36","strokeWidth":1.5}},
{"data":{"name":"b3s"},"mark":{"type":"area","color":"#7FC9EE","opacity":1},"encoding":{"y2":{"datum":-0.32}}},
{"data":{"name":"b3s"},"mark":{"type":"line","color":"#2D77B6","strokeWidth":1.5}},
{"data":{"name":"b3d"},"mark":{"type":"area","color":"#FCCD86","opacity":1},"encoding":{"y2":{"datum":-0.32}}},
{"data":{"name":"b3d"},"mark":{"type":"line","color":"#EE8A36","strokeWidth":1.5}},
{"data":{"name":"blab"},"mark":{"type":"text","font":"Liberation Serif","fontSize":25,"color":"black"},"encoding":{"text":{"field":"t"}}}
]}
]
}
